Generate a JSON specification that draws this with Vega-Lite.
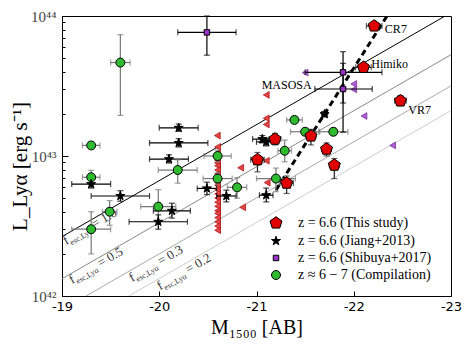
{
  "$schema": "https://vega.github.io/schema/vega-lite/v6.json",
  "width": 389,
  "height": 280,
  "autosize": {"type": "none"},
  "padding": {"left": 62, "top": 16, "right": 20, "bottom": 48},
  "config": {
    "view": {"stroke": "black", "strokeWidth": 1},
    "font": "Liberation Serif",
    "axis": {"domainColor": "black", "tickColor": "black", "grid": false}
  },
  "datasets": {
    "lines": [
      {"f": "1.0", "M": -19, "L": 2.655},
      {"f": "1.0", "M": -22.94, "L": 100},
      {"f": "0.5", "M": -19, "L": 1.327},
      {"f": "0.5", "M": -23, "L": 52.9},
      {"f": "0.3", "M": -19.2475, "L": 1.0},
      {"f": "0.3", "M": -23, "L": 31.7},
      {"f": "0.2", "M": -19.6875, "L": 1.0},
      {"f": "0.2", "M": -23, "L": 21.1}
    ],
    "dash": [
      {"M": -21.2, "L": 5.71},
      {"M": -22.342, "L": 100}
    ],
    "flab": [
      {"M": -19.041, "L": 2.31, "v": "= 1.0"},
      {"M": -19.103, "L": 1.22, "v": "= 0.5"},
      {"M": -19.72, "L": 1.26, "v": "= 0.3"},
      {"M": -20.008, "L": 1.10, "v": "= 0.2"}
    ],
    "lim": [
      {"g": "red", "M": -20.597, "L": 14.0},
      {"g": "red", "M": -20.6, "L": 11.6},
      {"g": "red", "M": -20.6, "L": 10.5},
      {"g": "red", "M": -20.6, "L": 9.33},
      {"g": "red", "M": -20.6, "L": 8.91},
      {"g": "red", "M": -20.6, "L": 8.51},
      {"g": "red", "M": -20.6, "L": 7.94},
      {"g": "red", "M": -20.6, "L": 7.41},
      {"g": "red", "M": -20.6, "L": 6.92},
      {"g": "red", "M": -20.6, "L": 6.46},
      {"g": "red", "M": -20.6, "L": 6.17},
      {"g": "red", "M": -20.6, "L": 5.75},
      {"g": "red", "M": -20.6, "L": 5.37},
      {"g": "red", "M": -20.6, "L": 5.01},
      {"g": "red", "M": -20.6, "L": 4.68},
      {"g": "red", "M": -20.6, "L": 4.37},
      {"g": "red", "M": -20.6, "L": 4.07},
      {"g": "red", "M": -20.6, "L": 3.89},
      {"g": "red", "M": -20.6, "L": 3.63},
      {"g": "red", "M": -20.6, "L": 3.39},
      {"g": "red", "M": -20.6, "L": 3.16},
      {"g": "red", "M": -20.6, "L": 2.95},
      {"g": "red", "M": -21.1, "L": 27.3},
      {"g": "red", "M": -21.1, "L": 18.6},
      {"g": "red", "M": -21.1, "L": 16.8},
      {"g": "red", "M": -21.1, "L": 9.25},
      {"g": "red", "M": -20.837, "L": 8.24},
      {"g": "red", "M": -21.11, "L": 6.46},
      {"g": "red", "M": -20.858, "L": 4.3},
      {"g": "purple", "M": -21.5, "L": 39.4},
      {"g": "purple", "M": -22.0, "L": 32.7},
      {"g": "purple", "M": -22.0, "L": 29.9},
      {"g": "purple", "M": -22.105, "L": 19.3},
      {"g": "purple", "M": -22.4, "L": 11.9}
    ],
    "pts": [
      {"s": "z ≈ 6 − 7 (Compilation)", "M": -19.6, "L": 46.5, "Mlo": -19.5, "Mhi": -19.7, "Llo": 19.5, "Lhi": 73.5},
      {"s": "z ≈ 6 − 7 (Compilation)", "M": -19.3, "L": 11.9, "Mlo": -19.21, "Mhi": -19.39, "Llo": 11.3, "Lhi": 12.5},
      {"s": "z ≈ 6 − 7 (Compilation)", "M": -19.3, "L": 7.05, "Mlo": -19.21, "Mhi": -19.39, "Llo": 6.3, "Lhi": 7.9},
      {"s": "z ≈ 6 − 7 (Compilation)", "M": -19.49, "L": 4.0, "Mlo": -19.415, "Mhi": -19.565, "Llo": 3.2, "Lhi": 4.8},
      {"s": "z ≈ 6 − 7 (Compilation)", "M": -19.3, "L": 3.0, "Mlo": -19.1, "Mhi": -19.5, "Llo": 2.0, "Lhi": 4.0},
      {"s": "z ≈ 6 − 7 (Compilation)", "M": -20.19, "L": 7.94, "Mlo": -19.99, "Mhi": -20.39, "Llo": 6.4, "Lhi": 9.4},
      {"s": "z ≈ 6 − 7 (Compilation)", "M": -19.99, "L": 4.35, "Mlo": -19.81, "Mhi": -20.17, "Llo": 3.3, "Lhi": 5.75},
      {"s": "z ≈ 6 − 7 (Compilation)", "M": -20.6, "L": 10.0, "Mlo": -20.46, "Mhi": -20.74, "Llo": 9.1, "Lhi": 11.0},
      {"s": "z ≈ 6 − 7 (Compilation)", "M": -20.6, "L": 6.9, "Mlo": -20.45, "Mhi": -20.75, "Llo": 6.3, "Lhi": 7.6},
      {"s": "z ≈ 6 − 7 (Compilation)", "M": -20.8, "L": 5.97, "Mlo": -20.7, "Mhi": -20.9, "Llo": 5.0, "Lhi": 7.0},
      {"s": "z ≈ 6 − 7 (Compilation)", "M": -21.29, "L": 10.9, "Mlo": -21.22, "Mhi": -21.36, "Llo": 9.1, "Lhi": 13.0},
      {"s": "z ≈ 6 − 7 (Compilation)", "M": -21.2, "L": 6.9, "Mlo": -21.0, "Mhi": -21.4, "Llo": 5.56, "Lhi": 8.2},
      {"s": "z ≈ 6 − 7 (Compilation)", "M": -21.39, "L": 18.1, "Mlo": -21.31, "Mhi": -21.47, "Llo": 17.2, "Lhi": 19.0},
      {"s": "z ≈ 6 − 7 (Compilation)", "M": -21.5, "L": 14.9, "Mlo": -21.35, "Mhi": -21.65, "Llo": 14.0, "Lhi": 15.8},
      {"s": "z ≈ 6 − 7 (Compilation)", "M": -21.79, "L": 14.9, "Mlo": -21.64, "Mhi": -21.94, "Llo": 14.0, "Lhi": 15.8},
      {"s": "z = 6.6 (Jiang+2013)", "M": -20.2, "L": 15.9, "Mlo": -20.0, "Mhi": -20.4, "Llo": 15.0, "Lhi": 16.9},
      {"s": "z = 6.6 (Jiang+2013)", "M": -20.2, "L": 12.4, "Mlo": -19.9, "Mhi": -20.5, "Llo": 11.6, "Lhi": 13.3},
      {"s": "z = 6.6 (Jiang+2013)", "M": -20.1, "L": 9.5, "Mlo": -19.9, "Mhi": -20.3, "Llo": 8.9, "Lhi": 10.2},
      {"s": "z = 6.6 (Jiang+2013)", "M": -19.6, "L": 5.18, "Mlo": -19.3, "Mhi": -19.9, "Llo": 4.75, "Lhi": 5.65},
      {"s": "z = 6.6 (Jiang+2013)", "M": -19.3, "L": 6.3, "Mlo": -19.1, "Mhi": -19.5, "Llo": 5.9, "Lhi": 6.8},
      {"s": "z = 6.6 (Jiang+2013)", "M": -20.13, "L": 4.06, "Mlo": -19.94, "Mhi": -20.32, "Llo": 3.6, "Lhi": 4.6},
      {"s": "z = 6.6 (Jiang+2013)", "M": -19.99, "L": 3.39, "Mlo": -19.69, "Mhi": -20.29, "Llo": 3.0, "Lhi": 3.8},
      {"s": "z = 6.6 (Jiang+2013)", "M": -20.49, "L": 5.87, "Mlo": -20.39, "Mhi": -20.59, "Llo": 5.3, "Lhi": 6.5},
      {"s": "z = 6.6 (Jiang+2013)", "M": -20.69, "L": 5.18, "Mlo": -20.59, "Mhi": -20.79, "Llo": 4.7, "Lhi": 5.7},
      {"s": "z = 6.6 (Jiang+2013)", "M": -21.1, "L": 5.25, "Mlo": -21.03, "Mhi": -21.17, "Llo": 4.7, "Lhi": 5.9},
      {"s": "z = 6.6 (Jiang+2013)", "M": -21.06, "L": 13.2, "Mlo": -20.96, "Mhi": -21.16, "Llo": 12.4, "Lhi": 14.0},
      {"s": "z = 6.6 (Jiang+2013)", "M": -21.1, "L": 12.6, "Mlo": -21.0, "Mhi": -21.2, "Llo": 11.8, "Lhi": 13.4},
      {"s": "z = 6.6 (Jiang+2013)", "M": -21.7, "L": 19.9, "Mlo": -21.67, "Mhi": -21.73, "Llo": 19.0, "Lhi": 20.8},
      {"s": "z = 6.6 (Shibuya+2017)", "M": -20.49, "L": 76.4, "Mlo": -20.19, "Mhi": -20.79, "Llo": 52.5, "Lhi": 100},
      {"s": "z = 6.6 (Shibuya+2017)", "M": -21.89, "L": 39.6, "Mlo": -21.5, "Mhi": -22.29, "Llo": 23.9, "Lhi": 55.6},
      {"s": "z = 6.6 (Shibuya+2017)", "M": -21.89, "L": 30.1, "Mlo": -21.6, "Mhi": -22.19, "Llo": 14.8, "Lhi": 45.9},
      {"s": "z = 6.6 (This study)", "M": -22.21, "L": 84.9, "Mlo": -22.13, "Mhi": -22.29, "Llo": 80.0, "Lhi": 90.0},
      {"s": "z = 6.6 (This study)", "M": -22.1, "L": 43.0, "Mlo": -22.02, "Mhi": -22.18, "Llo": 40.5, "Lhi": 45.5},
      {"s": "z = 6.6 (This study)", "M": -22.48, "L": 24.8, "Mlo": -22.42, "Mhi": -22.54, "Llo": 22.8, "Lhi": 27.0},
      {"s": "z = 6.6 (This study)", "M": -21.19, "L": 13.2, "Mlo": -21.13, "Mhi": -21.25, "Llo": 12.0, "Lhi": 14.5},
      {"s": "z = 6.6 (This study)", "M": -21.56, "L": 13.9, "Mlo": -21.51, "Mhi": -21.61, "Llo": 12.0, "Lhi": 15.5},
      {"s": "z = 6.6 (This study)", "M": -21.72, "L": 11.2, "Mlo": -21.67, "Mhi": -21.77, "Llo": 10.0, "Lhi": 12.4},
      {"s": "z = 6.6 (This study)", "M": -21.8, "L": 8.6, "Mlo": -21.75, "Mhi": -21.85, "Llo": 6.9, "Lhi": 9.6},
      {"s": "z = 6.6 (This study)", "M": -21.01, "L": 9.4, "Mlo": -20.94, "Mhi": -21.08, "Llo": 7.7, "Lhi": 10.6},
      {"s": "z = 6.6 (This study)", "M": -21.31, "L": 6.4, "Mlo": -21.24, "Mhi": -21.38, "Llo": 5.4, "Lhi": 7.2}
    ],
    "ann": [
      {"t": "CR7", "M": -22.32, "L": 80.4},
      {"t": "Himiko", "M": -22.18, "L": 45.4},
      {"t": "VR7", "M": -22.56, "L": 21.3}
    ],
    "ann2": [
      {"t": "MASOSA", "M": -21.31, "L": 32.1}
    ]
  },
  "layer": [
    {
      "data": {"name": "lines"},
      "mark": {"type": "line", "strokeWidth": 1, "clip": true},
      "encoding": {
        "x": {"field": "M", "type": "quantitative",
          "scale": {"domain": [-23, -19], "reverse": true, "nice": false, "zero": false},
          "axis": {"title": "M₁₅₀₀ [AB]", "values": [-19, -20, -21, -22, -23],
            "labelExpr": "'-' + (-datum.value)", "labelFont": "DejaVu Sans", "labelFontSize": 13,
            "labelColor": "black", "tickSize": -5, "labelPadding": 9, "labelFlush": false,
            "titleFont": "Liberation Serif", "titleFontSize": 20, "titleFontWeight": "normal",
            "titleColor": "black", "titlePadding": 4}},
        "y": {"field": "L", "type": "quantitative",
          "scale": {"type": "log", "domain": [1, 100], "nice": false},
          "axis": {"title": "L_Lyα [erg s⁻¹]",
            "values": [1, 2, 3, 4, 5, 6, 7, 8, 9, 10, 20, 30, 40, 50, 60, 70, 80, 90, 100],
            "labelExpr": "datum.value == 1 ? '10⁴²' : datum.value == 10 ? '10⁴³' : datum.value == 100 ? '10⁴⁴' : ''",
            "labelFont": "Liberation Serif", "labelFontSize": 15, "labelColor": "#444",
            "tickSize": {"condition": {"test": "datum.value == 1 || datum.value == 10 || datum.value == 100", "value": -6}, "value": -3},
            "labelPadding": 12, "labelFlush": false,
            "titleFont": "Liberation Serif", "titleFontSize": 21, "titleFontWeight": "normal",
            "titleColor": "black", "titleX": -42, "titleY": 150, "titleAngle": -90,
            "titleAlign": "center", "titleBaseline": "middle"}},
        "color": {"field": "f", "type": "nominal",
          "scale": {"domain": ["1.0", "0.5", "0.3", "0.2"], "range": ["#000000", "#888888", "#aaaaaa", "#cccccc"]},
          "legend": null}
      }
    },
    {
      "data": {"name": "dash"},
      "mark": {"type": "line", "strokeWidth": 3, "strokeDash": [6, 4], "color": "black", "clip": true},
      "encoding": {
        "x": {"field": "M", "type": "quantitative", "scale": {"domain": [-23, -19], "reverse": true, "nice": false, "zero": false}},
        "y": {"field": "L", "type": "quantitative", "scale": {"type": "log", "domain": [1, 100], "nice": false}}
      }
    },
    {
      "data": {"name": "flab"},
      "mark": {"type": "text", "text": "f", "angle": -30, "align": "left", "baseline": "alphabetic", "fontSize": 13, "font": "Liberation Serif", "color": "#333"},
      "encoding": {
        "x": {"field": "M", "type": "quantitative", "scale": {"domain": [-23, -19], "reverse": true, "nice": false, "zero": false}},
        "y": {"field": "L", "type": "quantitative", "scale": {"type": "log", "domain": [1, 100], "nice": false}}
      }
    },
    {
      "data": {"name": "flab"},
      "mark": {"type": "text", "text": "esc,Lyα", "angle": -30, "align": "left", "baseline": "alphabetic", "fontSize": 8, "font": "Liberation Serif", "color": "#333", "dx": 5, "dy": 3},
      "encoding": {
        "x": {"field": "M", "type": "quantitative", "scale": {"domain": [-23, -19], "reverse": true, "nice": false, "zero": false}},
        "y": {"field": "L", "type": "quantitative", "scale": {"type": "log", "domain": [1, 100], "nice": false}}
      }
    },
    {
      "data": {"name": "flab"},
      "mark": {"type": "text", "angle": -30, "align": "left", "baseline": "alphabetic", "fontSize": 13, "font": "Liberation Serif", "color": "#333", "dx": 33},
      "encoding": {
        "x": {"field": "M", "type": "quantitative", "scale": {"domain": [-23, -19], "reverse": true, "nice": false, "zero": false}},
        "y": {"field": "L", "type": "quantitative", "scale": {"type": "log", "domain": [1, 100], "nice": false}},
        "text": {"field": "v"}
      }
    },
    {
      "data": {"name": "lim"},
      "mark": {"type": "point", "shape": "triangle-left", "filled": true, "strokeWidth": 0.8, "size": 45, "opacity": 1},
      "encoding": {
        "x": {"field": "M", "type": "quantitative", "scale": {"domain": [-23, -19], "reverse": true, "nice": false, "zero": false}},
        "y": {"field": "L", "type": "quantitative", "scale": {"type": "log", "domain": [1, 100], "nice": false}},
        "fill": {"field": "g", "type": "nominal", "scale": {"domain": ["red", "purple"], "range": ["#e64545", "#b05cd8"]}, "legend": null},
        "stroke": {"field": "g", "type": "nominal", "scale": {"domain": ["red", "purple"], "range": ["#b01818", "#7a3a9a"]}, "legend": null}
      }
    },
    {
      "data": {"name": "pts"},
      "mark": {"type": "rule", "strokeWidth": 1.2},
      "encoding": {
        "x": {"field": "Mlo", "type": "quantitative", "scale": {"domain": [-23, -19], "reverse": true, "nice": false, "zero": false}},
        "x2": {"field": "Mhi"},
        "y": {"field": "L", "type": "quantitative", "scale": {"type": "log", "domain": [1, 100], "nice": false}},
        "color": {"field": "s", "type": "nominal", "scale": {"domain": ["z = 6.6 (This study)", "z = 6.6 (Jiang+2013)", "z = 6.6 (Shibuya+2017)", "z ≈ 6 − 7 (Compilation)"], "range": ["#222222", "#000000", "#000000", "#777777"]}, "legend": null}
      }
    },
    {
      "data": {"name": "pts"},
      "mark": {"type": "rule", "strokeWidth": 1.2, "clip": true},
      "encoding": {
        "x": {"field": "M", "type": "quantitative", "scale": {"domain": [-23, -19], "reverse": true, "nice": false, "zero": false}},
        "y": {"field": "Llo", "type": "quantitative", "scale": {"type": "log", "domain": [1, 100], "nice": false}},
        "y2": {"field": "Lhi"},
        "color": {"field": "s", "type": "nominal", "scale": {"domain": ["z = 6.6 (This study)", "z = 6.6 (Jiang+2013)", "z = 6.6 (Shibuya+2017)", "z ≈ 6 − 7 (Compilation)"], "range": ["#222222", "#000000", "#000000", "#777777"]}, "legend": null}
      }
    },
    {
      "data": {"name": "pts"},
      "mark": {"type": "tick", "orient": "vertical", "size": 6, "thickness": 1.2},
      "encoding": {
        "x": {"field": "Mlo", "type": "quantitative", "scale": {"domain": [-23, -19], "reverse": true, "nice": false, "zero": false}},
        "y": {"field": "L", "type": "quantitative", "scale": {"type": "log", "domain": [1, 100], "nice": false}},
        "color": {"field": "s", "type": "nominal", "scale": {"domain": ["z = 6.6 (This study)", "z = 6.6 (Jiang+2013)", "z = 6.6 (Shibuya+2017)", "z ≈ 6 − 7 (Compilation)"], "range": ["#222222", "#000000", "#000000", "#777777"]}, "legend": null}
      }
    },
    {
      "data": {"name": "pts"},
      "mark": {"type": "tick", "orient": "vertical", "size": 6, "thickness": 1.2},
      "encoding": {
        "x": {"field": "Mhi", "type": "quantitative", "scale": {"domain": [-23, -19], "reverse": true, "nice": false, "zero": false}},
        "y": {"field": "L", "type": "quantitative", "scale": {"type": "log", "domain": [1, 100], "nice": false}},
        "color": {"field": "s", "type": "nominal", "scale": {"domain": ["z = 6.6 (This study)", "z = 6.6 (Jiang+2013)", "z = 6.6 (Shibuya+2017)", "z ≈ 6 − 7 (Compilation)"], "range": ["#222222", "#000000", "#000000", "#777777"]}, "legend": null}
      }
    },
    {
      "data": {"name": "pts"},
      "mark": {"type": "tick", "orient": "horizontal", "size": 6, "thickness": 1.2},
      "encoding": {
        "x": {"field": "M", "type": "quantitative", "scale": {"domain": [-23, -19], "reverse": true, "nice": false, "zero": false}},
        "y": {"field": "Llo", "type": "quantitative", "scale": {"type": "log", "domain": [1, 100], "nice": false}},
        "color": {"field": "s", "type": "nominal", "scale": {"domain": ["z = 6.6 (This study)", "z = 6.6 (Jiang+2013)", "z = 6.6 (Shibuya+2017)", "z ≈ 6 − 7 (Compilation)"], "range": ["#222222", "#000000", "#000000", "#777777"]}, "legend": null}
      }
    },
    {
      "data": {"name": "pts"},
      "mark": {"type": "tick", "orient": "horizontal", "size": 6, "thickness": 1.2},
      "encoding": {
        "x": {"field": "M", "type": "quantitative", "scale": {"domain": [-23, -19], "reverse": true, "nice": false, "zero": false}},
        "y": {"field": "Lhi", "type": "quantitative", "scale": {"type": "log", "domain": [1, 100], "nice": false}},
        "color": {"field": "s", "type": "nominal", "scale": {"domain": ["z = 6.6 (This study)", "z = 6.6 (Jiang+2013)", "z = 6.6 (Shibuya+2017)", "z ≈ 6 − 7 (Compilation)"], "range": ["#222222", "#000000", "#000000", "#777777"]}, "legend": null}
      }
    },
    {
      "data": {"name": "pts"},
      "mark": {"type": "point", "filled": true, "stroke": "black", "strokeWidth": 1, "opacity": 1},
      "encoding": {
        "x": {"field": "M", "type": "quantitative", "scale": {"domain": [-23, -19], "reverse": true, "nice": false, "zero": false}},
        "y": {"field": "L", "type": "quantitative", "scale": {"type": "log", "domain": [1, 100], "nice": false}},
        "color": {"field": "s", "type": "nominal",
          "scale": {"domain": ["z = 6.6 (This study)", "z = 6.6 (Jiang+2013)", "z = 6.6 (Shibuya+2017)", "z ≈ 6 − 7 (Compilation)"], "range": ["#e00000", "#000000", "#9b30c8", "#2fbb2f"]},
          "legend": {"title": null, "orient": "none", "legendX": 207, "legendY": 200, "padding": 0,
            "labelFont": "Liberation Serif", "labelFontSize": 14, "labelColor": "black", "labelLimit": 300,
            "symbolSize": 100, "symbolStrokeColor": "black", "symbolStrokeWidth": 1, "rowPadding": 3, "labelOffset": 15}},
        "shape": {"field": "s", "type": "nominal",
          "scale": {"domain": ["z = 6.6 (This study)", "z = 6.6 (Jiang+2013)", "z = 6.6 (Shibuya+2017)", "z ≈ 6 − 7 (Compilation)"],
            "range": ["M0,-1L0.951,-0.309L0.588,0.809L-0.588,0.809L-0.951,-0.309Z", "M0,-1L0.225,-0.309L0.951,-0.309L0.363,0.118L0.588,0.809L0,0.382L-0.588,0.809L-0.363,0.118L-0.951,-0.309L-0.225,-0.309Z", "square", "circle"]},
          "legend": {"title": null, "orient": "none", "legendX": 207, "legendY": 200, "padding": 0,
            "labelFont": "Liberation Serif", "labelFontSize": 14, "labelColor": "black", "labelLimit": 300,
            "symbolSize": 100, "symbolStrokeColor": "black", "symbolStrokeWidth": 1, "rowPadding": 3, "labelOffset": 15}},
        "size": {"field": "s", "type": "nominal",
          "scale": {"type": "ordinal", "domain": ["z = 6.6 (This study)", "z = 6.6 (Jiang+2013)", "z = 6.6 (Shibuya+2017)", "z ≈ 6 − 7 (Compilation)"], "range": [160, 90, 30, 80]},
          "legend": null}
      }
    },
    {
      "data": {"name": "ann"},
      "mark": {"type": "text", "align": "left", "baseline": "middle", "fontSize": 12, "font": "Liberation Serif", "color": "black"},
      "encoding": {
        "x": {"field": "M", "type": "quantitative", "scale": {"domain": [-23, -19], "reverse": true, "nice": false, "zero": false}},
        "y": {"field": "L", "type": "quantitative", "scale": {"type": "log", "domain": [1, 100], "nice": false}},
        "text": {"field": "t"}
      }
    },
    {
      "data": {"name": "ann2"},
      "mark": {"type": "text", "align": "center", "baseline": "middle", "fontSize": 12, "font": "Liberation Serif", "color": "black"},
      "encoding": {
        "x": {"field": "M", "type": "quantitative", "scale": {"domain": [-23, -19], "reverse": true, "nice": false, "zero": false}},
        "y": {"field": "L", "type": "quantitative", "scale": {"type": "log", "domain": [1, 100], "nice": false}},
        "text": {"field": "t"}
      }
    }
  ],
  "resolve": {"scale": {"color": "independent", "shape": "independent", "size": "independent", "fill": "independent", "stroke": "independent"}}
}
